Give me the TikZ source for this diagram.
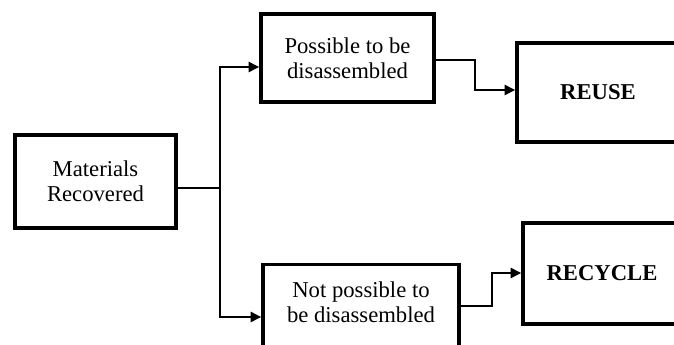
\documentclass[tikz,border=0pt]{standalone}
\usepackage{fontspec}
\setmainfont{Liberation Serif}
\usetikzlibrary{arrows.meta}

\newcommand{\pxu}{0.75pt}
\tikzset{
  block/.style={draw, line width=2.6pt, align=center, inner sep=0pt,
    font=\fontsize{17}{19}\selectfont},
  flow/.style={line width=1.8pt, -{Triangle[length=8pt,width=7.5pt]}},
  link/.style={line width=1.8pt}
}

\begin{document}
\begin{tikzpicture}[x=0.75pt, y=-0.75pt]
\useasboundingbox (0,0) rectangle (674,345);
\clip (0,0) rectangle (674,345);

% ===== LEFT: source =====
\node[block, minimum width=161*\pxu, minimum height=93*\pxu] (matrec) at (95.5,181.5)
  {Materials\\Recovered};

% ===== MIDDLE: the two routes =====
\node[block, minimum width=173*\pxu, minimum height=88*\pxu] (possible) at (347.5,58)
  {Possible to be\\disassembled};
\node[block, anchor=north, minimum width=196*\pxu, minimum height=110*\pxu] (notpossible)
  at (361,263) {};
\node[align=center, font=\fontsize{17}{19}\selectfont] (notpossibletext)
  at (361,302) {Not possible to\\be disassembled};

% ===== RIGHT: outcomes =====
\node[block, minimum width=162*\pxu, minimum height=99*\pxu, font=\fontsize{17}{19}\selectfont\bfseries]
  (reuse) at (598,92.5) {REUSE};
\node[block, minimum width=158*\pxu, minimum height=101*\pxu, font=\fontsize{17}{19}\selectfont\bfseries]
  (recycle) at (602,273.5) {RECYCLE};

% ===== connectors =====
\coordinate (split) at (220,188);
\coordinate (topbend) at (220,67);
\coordinate (lowbend) at (220,317);
\draw[link] (matrec.east |- split) -- (split);
\draw[flow] (lowbend) -- (topbend) -- (possible.west |- topbend);
\draw[flow] (topbend |- split) -- (lowbend) -- (notpossible.west |- lowbend);

\coordinate (reusestep) at (475,60);
\draw[flow] (possible.east |- reusestep) -- (reusestep) -- (475,90)
  -- (reuse.west |- 0,90);
\coordinate (recyclestep) at (492,306);
\draw[flow] (notpossible.east |- recyclestep) -- (recyclestep) -- (492,273)
  -- (recycle.west |- 0,273);
\end{tikzpicture}
\end{document}
